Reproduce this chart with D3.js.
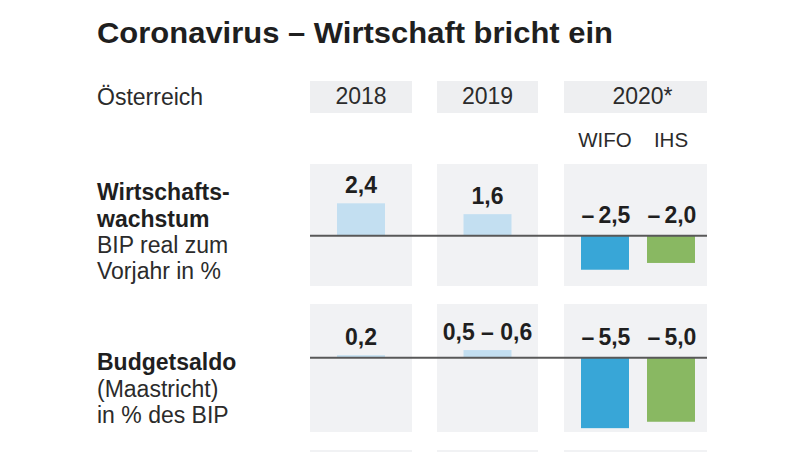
<!DOCTYPE html>
<html><head><meta charset="utf-8">
<script src="https://cdn.jsdelivr.net/npm/d3@7/dist/d3.min.js"></script>
<style>
html,body{margin:0;padding:0;background:#fff;}
svg{display:block;}
text{font-family:"Liberation Sans",Arial,Helvetica,sans-serif;}
</style></head>
<body>
<svg id="chart" width="800" height="452"></svg>
<script>
// ---- data ----
const title = "Coronavirus \u2013 Wirtschaft bricht ein";
const country = "Österreich";
const years = ["2018", "2019", "2020*"];
const sources2020 = ["WIFO", "IHS"];
const growthPast = [2.4, 1.6];             // 2018, 2019
const growth2020 = [-2.5, -2.0];           // WIFO, IHS
const budgetPast = [0.2, 0.6];             // 2018, 2019 (2019: 0,5 – 0,6)
const budgetPastLabels = ["0,2", "0,5 \u2013 0,6"];
const budget2020 = [-5.5, -5.0];           // WIFO, IHS
const growthTitle = ["Wirtschafts-", "wachstum"];
const growthSub = ["BIP real zum", "Vorjahr in %"];
const budgetTitle = ["Budgetsaldo"];
const budgetSub = ["(Maastricht)", "in % des BIP"];

// ---- setup ----
const svg = d3.select("#chart");
const loc = d3.formatLocale({decimal: ",", thousands: ".", grouping: [3], currency: ["", "€"], minus: "\u2013"});
const fmt = loc.format(".1f");

const colPanel = d3.scaleOrdinal().domain(years).range([[310, 412], [437, 538], [564, 707]]);
const barW = 48;
const subX = d3.scaleBand().domain(sources2020).range([581, 695]).paddingInner(18 / 66);

const bgPanel = "#f1f2f4";
const lightBlue = "#c3dff1";
const colWIFO = "#38a6d7";
const colIHS = "#89b862";
const dark = "#1f1f1f";
const txt = "#2b2b2b";

// title
svg.append("text").attr("x", 97).attr("y", 43)
  .attr("font-size", 30).attr("font-weight", "bold").attr("fill", dark)
  .attr("textLength", 516).attr("lengthAdjust", "spacingAndGlyphs")
  .text(title);

// header
svg.append("text").attr("x", 97).attr("y", 105).attr("font-size", 23).attr("fill", txt).text(country);
years.forEach(y => {
  const [x0, x1] = colPanel(y);
  svg.append("rect").attr("x", x0).attr("y", 81).attr("width", x1 - x0).attr("height", 32).attr("fill", "#eeeff1");
});
years.slice(0, 2).forEach(y => {
  const [x0, x1] = colPanel(y);
  svg.append("text").attr("x", (x0 + x1) / 2).attr("y", 104).attr("text-anchor", "middle")
    .attr("font-size", 23).attr("fill", txt).text(y);
});
{
  const sRange = subX.range();
  svg.append("text").attr("x", (sRange[0] + sRange[1]) / 2 + 4.5).attr("y", 104).attr("text-anchor", "middle")
    .attr("font-size", 23).attr("fill", txt).text(years[2]);
}
sources2020.forEach(s => {
  svg.append("text").attr("x", subX(s) + subX.bandwidth() / 2).attr("y", 147).attr("text-anchor", "middle")
    .attr("font-size", 20.5).attr("fill", txt).text(s);
});

// panel drawer
function drawPanel(top, bottom, domain, past, pastLabels, fut, titleLines, subLines, labelBase) {
  const y = d3.scaleLinear().domain(domain).range([bottom, top]);
  const y0 = y(0);
  years.forEach(yr => {
    const [x0, x1] = colPanel(yr);
    svg.append("rect").attr("x", x0).attr("y", top).attr("width", x1 - x0).attr("height", bottom - top).attr("fill", bgPanel);
  });
  // past bars
  years.slice(0, 2).forEach((yr, i) => {
    const [x0, x1] = colPanel(yr);
    const cx = (x0 + x1) / 2;
    const v = past[i];
    svg.append("rect").attr("x", cx - barW / 2).attr("y", y(Math.max(0, v)))
      .attr("width", barW).attr("height", Math.abs(y(v) - y0)).attr("fill", lightBlue);
    svg.append("text").attr("x", cx).attr("y", y(v) - 10).attr("text-anchor", "middle")
      .attr("font-size", 23).attr("font-weight", "bold").attr("fill", dark)
      .text(pastLabels[i]);
  });
  // 2020 bars
  sources2020.forEach((s, i) => {
    const v = fut[i];
    svg.append("rect").attr("x", subX(s)).attr("y", y(Math.max(0, v)))
      .attr("width", subX.bandwidth()).attr("height", Math.abs(y(v) - y0))
      .attr("fill", i === 0 ? colWIFO : colIHS);
    const label = fmt(v);
    const t = svg.append("text").attr("x", subX(s) + subX.bandwidth() / 2 + 1).attr("y", y0 - 13).attr("text-anchor", "middle")
      .attr("font-size", 23).attr("font-weight", "bold").attr("fill", dark);
    t.append("tspan").text(label.slice(0, 1));
    t.append("tspan").attr("dx", 4).text(label.slice(1));
  });
  // zero line
  svg.append("line").attr("x1", colPanel(years[0])[0]).attr("x2", colPanel(years[2])[1])
    .attr("y1", y0).attr("y2", y0).attr("stroke", "#585858").attr("stroke-width", 2);
  // left labels
  let by = labelBase;
  titleLines.forEach(t => {
    svg.append("text").attr("x", 97).attr("y", by).attr("font-size", 23).attr("font-weight", "bold").attr("fill", dark).text(t);
    by += 26.5;
  });
  subLines.forEach(t => {
    svg.append("text").attr("x", 97).attr("y", by).attr("font-size", 23).attr("fill", txt).text(t);
    by += 26;
  });
}

drawPanel(164, 286, [-3.7, 5.3], growthPast, growthPast.map(fmt), growth2020, growthTitle, growthSub, 200);
drawPanel(304, 432, [-5.8, 4.2], budgetPast, budgetPastLabels, budget2020, budgetTitle, budgetSub, 370);

// start of next row (cut off)
years.forEach(yr => {
  const [x0, x1] = colPanel(yr);
  svg.append("rect").attr("x", x0).attr("y", 450).attr("width", x1 - x0).attr("height", 20).attr("fill", bgPanel);
});
</script>
</body></html>
